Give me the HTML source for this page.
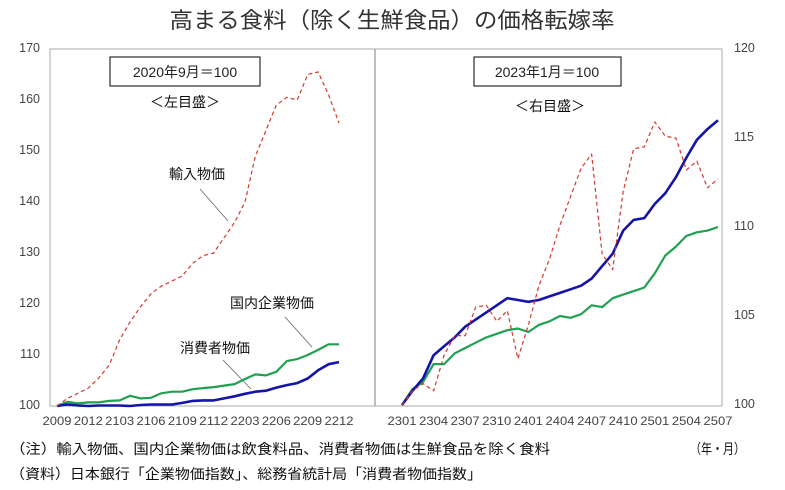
<!DOCTYPE html>
<html><head><meta charset="utf-8"><style>
body{margin:0;background:#fff;width:785px;height:485px;overflow:hidden;font-family:"Liberation Sans","Noto Sans CJK JP",sans-serif;}
svg text{font-family:"Liberation Sans","Noto Sans CJK JP",sans-serif;}
</style></head><body>
<svg id="c" width="785" height="485">
<text x="392" y="28" text-anchor="middle" font-size="22" fill="#333" textLength="445" lengthAdjust="spacingAndGlyphs">高まる食料（除く生鮮食品）の価格転嫁率</text>
<rect x="50" y="49" width="672" height="357" fill="none" stroke="#aaa" stroke-width="1"/>
<line x1="375" y1="49" x2="375" y2="406" stroke="#aaa" stroke-width="1.5"/>
<rect x="110" y="57" width="150" height="29" fill="#fff" stroke="#000"/>
<text x="185" y="77" text-anchor="middle" font-size="14" fill="#222">2020年9月＝100</text>
<text x="185" y="107" text-anchor="middle" font-size="14" fill="#111">＜左目盛＞</text>
<rect x="474" y="57" width="147" height="29" fill="#fff" stroke="#000"/>
<text x="547" y="77" text-anchor="middle" font-size="14" fill="#222">2023年1月＝100</text>
<text x="550" y="111" text-anchor="middle" font-size="14" fill="#111">＜右目盛＞</text>
<text x="197" y="179" text-anchor="middle" font-size="14" fill="#111">輸入物価</text>
<line x1="200" y1="189" x2="228" y2="221" stroke="#555" stroke-width="0.7"/>
<text x="272" y="308" text-anchor="middle" font-size="14" fill="#111">国内企業物価</text>
<line x1="285" y1="317" x2="312" y2="347" stroke="#555" stroke-width="0.7"/>
<text x="215" y="353" text-anchor="middle" font-size="14" fill="#111">消費者物価</text>
<line x1="223" y1="360" x2="251" y2="389" stroke="#555" stroke-width="0.7"/>
<text x="10" y="454" font-size="14" fill="#111" textLength="540" lengthAdjust="spacingAndGlyphs">（注）輸入物価、国内企業物価は飲食料品、消費者物価は生鮮食品を除く食料</text>
<text x="690" y="454" font-size="14" fill="#111" textLength="55" lengthAdjust="spacingAndGlyphs">（年・月）</text>
<text x="10" y="479" font-size="14" fill="#111" textLength="472" lengthAdjust="spacingAndGlyphs">（資料）日本銀行「企業物価指数」、総務省統計局「消費者物価指数」</text>
<g id="g"></g>
</svg>
<script>
const leftTicks=["2009","2012","2103","2106","2109","2112","2203","2206","2209","2212"];
const rightTicks=["2301","2304","2307","2310","2401","2404","2407","2410","2501","2504","2507"];
const leftYTicks=[100,110,120,130,140,150,160,170];
const rightYTicks=[100,105,110,115,120];
const leftImport=[100,101.5,102.5,103.5,105.5,108,113,116.5,119.5,122,123.5,124.5,125.5,128,129.5,130,133,136,140,149,154,159,160.5,160,165,165.5,161,155.5];
const leftDomestic=[100,100.8,100.5,100.7,100.7,101,101.1,102,101.5,101.6,102.5,102.8,102.8,103.3,103.5,103.7,104,104.3,105.3,106.2,106,106.7,108.8,109.2,110,111,112.1,112.1];
const leftCpi=[100,100.3,100.1,100,100.1,100.1,100.1,100,100.2,100.3,100.3,100.3,100.6,101,101.1,101.1,101.5,101.9,102.4,102.8,103,103.6,104.1,104.5,105.4,107,108.2,108.6];
const rightImport=[100,100.8,101.2,100.8,102.8,103.9,103.9,105.5,105.6,104.7,105.3,102.6,104.5,106.7,108.2,110.1,111.7,113.3,114.1,108.5,107.6,112,114.4,114.5,115.9,115.1,115,113.2,113.7,112.2,112.7];
const rightDomestic=[100,100.9,101.3,102.3,102.3,102.9,103.2,103.5,103.8,104,104.2,104.3,104.1,104.5,104.7,105,104.9,105.1,105.6,105.5,106,106.2,106.4,106.6,107.4,108.4,108.9,109.5,109.7,109.8,110];
const rightCpi=[100,100.8,101.5,102.8,103.3,103.8,104.4,104.8,105.2,105.6,106,105.9,105.8,105.9,106.1,106.3,106.5,106.7,107.1,107.8,108.5,109.8,110.4,110.5,111.3,111.9,112.8,113.9,114.9,115.5,116];
const NS="http://www.w3.org/2000/svg";
const g=document.getElementById('g');
const lx=i=>57+i*(339-57)/27;
const ly=v=>406-(v-100)*(406-49)/70;
const rx=i=>402+i*(718-402)/30;
const ry=v=>405-(v-100)*(405-49)/20;
function mk(t,a){const e=document.createElementNS(NS,t);for(const k in a)e.setAttribute(k,a[k]);g.appendChild(e);return e;}
function line(arr,fx,fy,color,w,dash,name){
  const p=arr.map((v,i)=>fx(i).toFixed(1)+','+fy(v).toFixed(1)).join(' ');
  const e=mk('polyline',{points:p,fill:'none',stroke:color,'stroke-width':w,'stroke-linejoin':'round'});
  if(dash)e.setAttribute('stroke-dasharray',dash);
  
  
}
line(leftDomestic,lx,ly,'#20a050',2.2,null,'left-domestic-line');
line(leftCpi,lx,ly,'#1414a8',2.6,null,'left-cpi-line');
line(leftImport,lx,ly,'#d03a30',1.2,'4,3','left-import-line');
line(rightDomestic,rx,ry,'#20a050',2.2,null,'right-domestic-line');
line(rightCpi,rx,ry,'#1414a8',2.6,null,'right-cpi-line');
line(rightImport,rx,ry,'#d03a30',1.2,'4,3','right-import-line');
leftYTicks.forEach(v=>{const t=mk('text',{x:40,y:ly(v)+3,'text-anchor':'end','font-size':12.5,fill:'#444'});t.textContent=v;

});
rightYTicks.forEach(v=>{const t=mk('text',{x:734,y:ry(v)+3,'font-size':12.5,fill:'#444'});t.textContent=v;

});
leftTicks.forEach((s,i)=>{const t=mk('text',{x:lx(i*3),y:425,'text-anchor':'middle','font-size':12,fill:'#444',textLength:29,lengthAdjust:'spacingAndGlyphs'});t.textContent=s;

});
rightTicks.forEach((s,i)=>{const t=mk('text',{x:rx(i*3),y:425,'text-anchor':'middle','font-size':12,fill:'#444',textLength:29,lengthAdjust:'spacingAndGlyphs'});t.textContent=s;

});
</script>
</body></html>
